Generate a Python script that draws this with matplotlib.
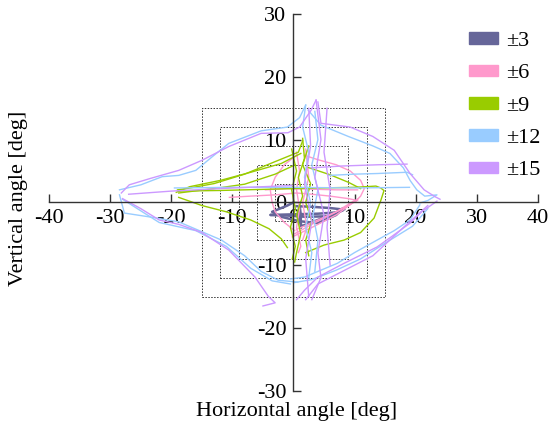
import matplotlib
matplotlib.use('Agg')
import matplotlib.pyplot as plt
from matplotlib.patches import Rectangle, Patch

plt.rcParams['font.family'] = ['Liberation Serif', 'DejaVu Serif']
plt.rcParams['axes.unicode_minus'] = False

# target ranges (half-width of dotted squares) and legend
ranges = [3, 6, 9, 12, 15]
labels = ['±3', '±6', '±9', '±12', '±15']
colors = ['#666699', '#ff99cc', '#99cc00', '#99ccff', '#cc99ff']

x_ticks = [-40, -30, -20, -10, 0, 10, 20, 30, 40]
y_ticks = [-30, -20, -10, 0, 10, 20, 30]

# gaze traces, (horizontal, vertical) in deg
traces_3 = [
    [(0.5, -0.6), (3, -0.7), (6, -0.9), (7.8, -1.1), (7, -1.6), (4, -1.8), (0, -1.9),
     (-3.8, -2.0), (-1, -2.1), (2, -2.3), (6, -2.2), (8, -1.3)],
    [(1.2, -4), (1.2, -2), (1.0, -0.5), (0.8, -1.5), (1.3, -3.8), (4, -2.8), (6.5, -1.8), (8.3, -1.1)],
    [(0, 0), (-1, -0.5), (-3.5, -1.5), (-2, -2.3), (1, -3), (4, -3.3), (7, -2), (8, -1)],
]
traces_6 = [
    [(-10.5, 0.8), (-7, 1.0), (-3, 1.2), (0.5, 1.5), (3, 1.3), (6, 1.0), (9, 0.6), (10.5, 0.3)],
    [(-4.6, 2.0), (-1, 2.2), (3, 2.1), (7, 2.0), (10.5, 2.0)],
    [(0.2, -5), (3, -3.5), (6, -2), (8.5, -0.8), (10.2, 0.2)],
    [(0.5, -4.3), (4, -2.8), (7, -1.5), (10, 0.3)],
    [(-0.2, -5.5), (3, -4), (7, -2), (10.5, 0.5)],
    [(1.8, 7.5), (4, 6.8), (7, 6), (9.3, 5), (11, 3.5), (11.6, 2.2), (11, 1), (10.3, 0.3)],
    [(0.5, 7.5), (-1.5, 6), (-3, 4), (-3.8, 2), (-3.5, 0), (-3, -1.5), (-1.5, -3.2), (0.2, -4.5)],
    [(0.5, 8), (1, 5), (0.5, 2), (1, -1), (0.5, -4), (1.2, -7), (0.8, -8)],
    [(2, 8.5), (2.5, 4), (1.5, 0), (2.2, -4), (1.5, -6)],
]
traces_9 = [
    [(1.5, 9.8), (0.8, 8), (-3, 6.5), (-8, 4.5), (-13, 3), (-17.5, 2.2), (-19, 2.0)],
    [(1.2, 7.8), (-2, 6.2), (-7, 4.8), (-12, 3.5), (-17, 2.5), (-19.2, 1.6)],
    [(0.3, 6), (-3, 4.5), (-8, 2.9), (-13, 2.2), (-18.8, 1.5)],
    [(-18.8, 1.8), (-12, 1.9), (-4, 2.1), (4, 2.3), (10, 2.4), (13.5, 2.6), (14.3, 2.3), (14.8, 1.9)],
    [(-18.8, 0.8), (-15, -0.5), (-11, -1.5), (-7, -2.8), (-4, -4.2), (-2, -5.8), (-1, -7.2)],
    [(14.8, 1.8), (14.3, 0.3), (13.2, -2.5), (11, -4.8), (8.3, -6), (5, -6.8), (2, -8)],
    [(2.3, 5.6), (6, 4.4), (9, 3.2), (11, 2.2)],
    [(1.5, 10.2), (1.8, 7), (0.8, 4), (1.5, 1), (0.5, -2), (1.2, -5), (0.5, -8), (0.2, -9.5)],
    [(2.5, 9), (1.5, 6), (2.8, 3), (2, 0), (3, -3), (2, -6), (2.5, -8.5)],
    [(-0.3, 8.5), (0.5, 5), (-0.3, 2), (0.3, -1), (-0.5, -4), (0.3, -7), (-0.2, -9)],
]
traces_12 = [
    [(2, 15.5), (1, 13.5), (-1, 12), (-5.3, 11.4), (-10.6, 9.4), (-13.4, 7.2), (-16, 5.1),
     (-18.8, 4.3), (-21.5, 4.1), (-25, 2.8), (-28.5, 2)],
    [(-28.5, 1.2), (-27.7, -1.7), (-23, -2.4), (-18.8, -3.1), (-11.8, -6), (-8, -8.5),
     (-5.3, -11), (-2.5, -12.4), (0.7, -12.7)],
    [(-28, 0.5), (-22, -3.2), (-16, -4.5), (-11, -7), (-7, -10.5), (-3.5, -12.5), (-0.5, -13)],
    [(2.4, 14.7), (4.5, 12.3), (9, 10.5), (13, 9), (15.8, 7.8), (18, 5.5), (19.1, 3.5),
     (20.2, 2), (21.5, 1), (23.5, 1.2), (22, 0.3), (20.7, -0.1)],
    [(20.7, -0.4), (19.1, -2.8), (16.5, -4.5), (13.7, -6), (10, -8), (7.2, -9.7), (4, -11),
     (1.8, -11.9), (-0.5, -12.2)],
    [(22, -1), (19.5, -3.8), (15, -6.5), (11, -9), (7, -10.8), (3, -12.3), (0, -12.8)],
    [(-19.5, 2.3), (-10, 2.4), (0, 2.4), (10, 2.3), (19, 2.4)],
    [(5.8, 4.3), (10, 4.5), (13.7, 4.6), (18.6, 4.8), (19.5, 4.4)],
    [(2, 15.5), (1.5, 12), (2.5, 8), (1.8, 4), (2.8, 0), (2, -4), (3, -8), (2.5, -12)],
    [(3.5, 14.5), (4, 10), (3, 6), (4, 2), (3.2, -2), (4, -6), (3.5, -11)],
]
traces_15 = [
    [(3.7, 16.3), (2.9, 14.7), (1, 12), (-0.9, 11.1), (-5.3, 11), (-10.6, 8.9), (-15, 6.7),
     (-18.8, 5.1), (-23.5, 3.8), (-26.9, 2.8), (-28.2, 1.5)],
    [(-28, 0.6), (-25, -1), (-22, -2.8), (-18.8, -3.5), (-15, -4.8), (-10.6, -7.6),
     (-6.3, -11.9), (-4.1, -15), (-3, -16), (-5, -16.5)],
    [(4, 16), (4.5, 12.6), (9.3, 12), (13, 10.5), (16.5, 8.3), (19.1, 4.6), (21.4, 2),
     (23.2, 0.9), (24, 0.5)],
    [(23.5, 0.2), (21, -1.5), (19.1, -3.3), (16, -5.5), (13.7, -7.1), (8.3, -9.7), (4, -11.9),
     (1.8, -14), (0.5, -15.5)],
    [(22, -0.5), (18, -4), (13, -8.5), (8, -11), (4, -13), (2, -15.5)],
    [(-27, 1.3), (-20, 1.8), (-12, 2.2), (-5, 2.5), (0, 2.7)],
    [(2.9, 5.5), (8, 5.8), (14, 6), (18.6, 6.1)],
    [(3.7, 16.3), (4.5, 10), (3.5, 4), (5, -2), (4, -8), (4.5, -12), (3, -15.5)],
    [(2.5, 15), (2.8, 9), (1.8, 3), (3, -3), (2, -9), (2.5, -15)],
    [(5.5, 15), (5, 8), (6, 2), (5.5, -4), (6, -10)],
]

all_traces = [traces_3, traces_6, traces_9, traces_12, traces_15]

fig = plt.figure(figsize=(5.5, 4.26), dpi=100)
ax = fig.add_axes([0.0896, 0.0829, 0.888, 0.884])

for h in ranges:
    ax.add_patch(Rectangle((-h, -h), 2 * h, 2 * h, fill=False, ec='#333333',
                           lw=0.7, ls=(0, (1.5, 1.5))))

for traces, c in zip(all_traces, colors):
    lw = 1.8 if c == '#666699' else 1.0
    for tr in traces:
        xs = [p[0] for p in tr]
        ys = [p[1] for p in tr]
        ax.plot(xs, ys, color=c, lw=lw)

ax.set_xlim(-40, 40)
ax.set_ylim(-30, 30)
ax.spines['left'].set_position('zero')
ax.spines['bottom'].set_position('zero')
ax.spines['top'].set_visible(False)
ax.spines['right'].set_visible(False)
for s in ['left', 'bottom']:
    ax.spines[s].set_color('#333333')
    ax.spines[s].set_linewidth(1.0)
ax.set_xticks(x_ticks)
ax.set_yticks(y_ticks)
ax.tick_params(direction='in', length=6, width=1, color='#333333', labelsize=16, pad=5)

fig.text(0.54, 0.035, 'Horizontal angle [deg]', ha='center', va='center', fontsize=16)
fig.text(0.033, 0.535, 'Vertical angle [deg]', ha='center', va='center',
         rotation=90, fontsize=16)

handles = [Patch(color=c) for c in colors]
ax.legend(handles, labels, loc='upper left', bbox_to_anchor=(458 / 550, 1 - 21 / 426),
          bbox_transform=fig.transFigure, frameon=False, fontsize=16, borderpad=0,
          handlelength=1.3, handleheight=0.45, handletextpad=0.35, labelspacing=0.6)

fig.savefig('out.png', dpi=100)
